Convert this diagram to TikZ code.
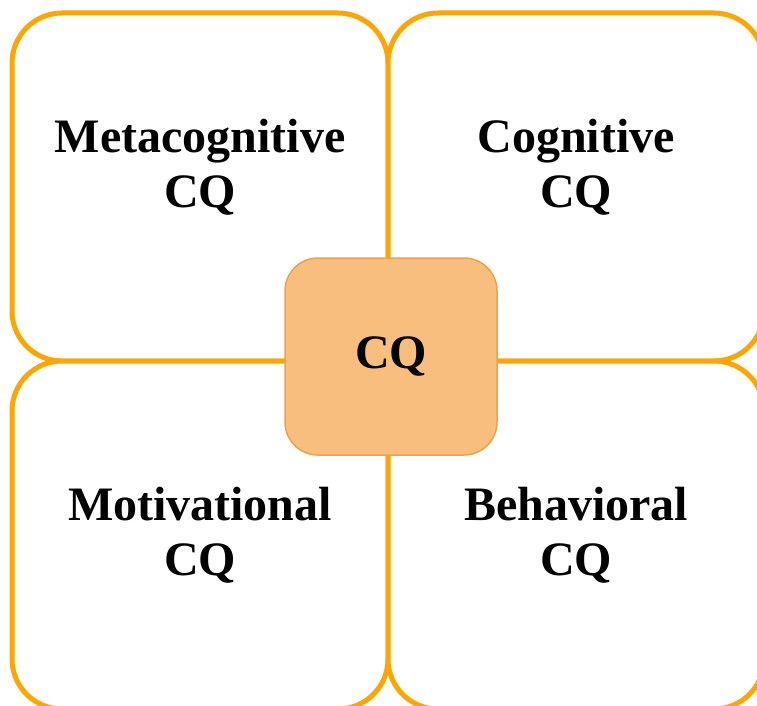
\documentclass[tikz,border=0pt]{standalone}
\usepackage{fontspec}
\setmainfont{Liberation Serif}
\definecolor{frameorange}{HTML}{FFA500}
\definecolor{corefill}{HTML}{F8BE7D}
\definecolor{coreline}{HTML}{EDA24A}
\begin{document}
\begin{tikzpicture}[x=1pt,y=-1pt,
  quadrant/.style={draw=frameorange, line width=5pt, rounded corners=50pt,
    minimum width=376pt, minimum height=348pt, inner sep=0pt, fill=white},
  core/.style={draw=coreline, line width=1.5pt, fill=corefill, rounded corners=33pt,
    minimum width=212pt, minimum height=197pt, inner sep=0pt},
  label/.style={font=\fontsize{48}{55}\selectfont\bfseries, align=center, anchor=base, inner sep=0pt}]
\useasboundingbox (0,0) rectangle (757,706);
\clip (0,0) rectangle (757,706);
% four quadrants
\node[quadrant] (meta) at (200,187) {};
\node[quadrant] (cog)  at (576,187) {};
\node[quadrant] (mot)  at (200,535) {};
\node[quadrant] (beh)  at (576,535) {};
% quadrant titles (anchored at the baseline of the second line)
\node[label] (metaT) at (200,207) {Metacognitive\\CQ};
\node[label] (cogT)  at (576,207) {Cognitive\\CQ};
\node[label] (motT)  at (200,575) {Motivational\\CQ};
\node[label] (behT)  at (576,575) {Behavioral\\CQ};
% central box
\node[core] (cq) at (391,356.5) {};
\node[label] (cqT) at (391,368) {CQ};
\end{tikzpicture}
\end{document}
